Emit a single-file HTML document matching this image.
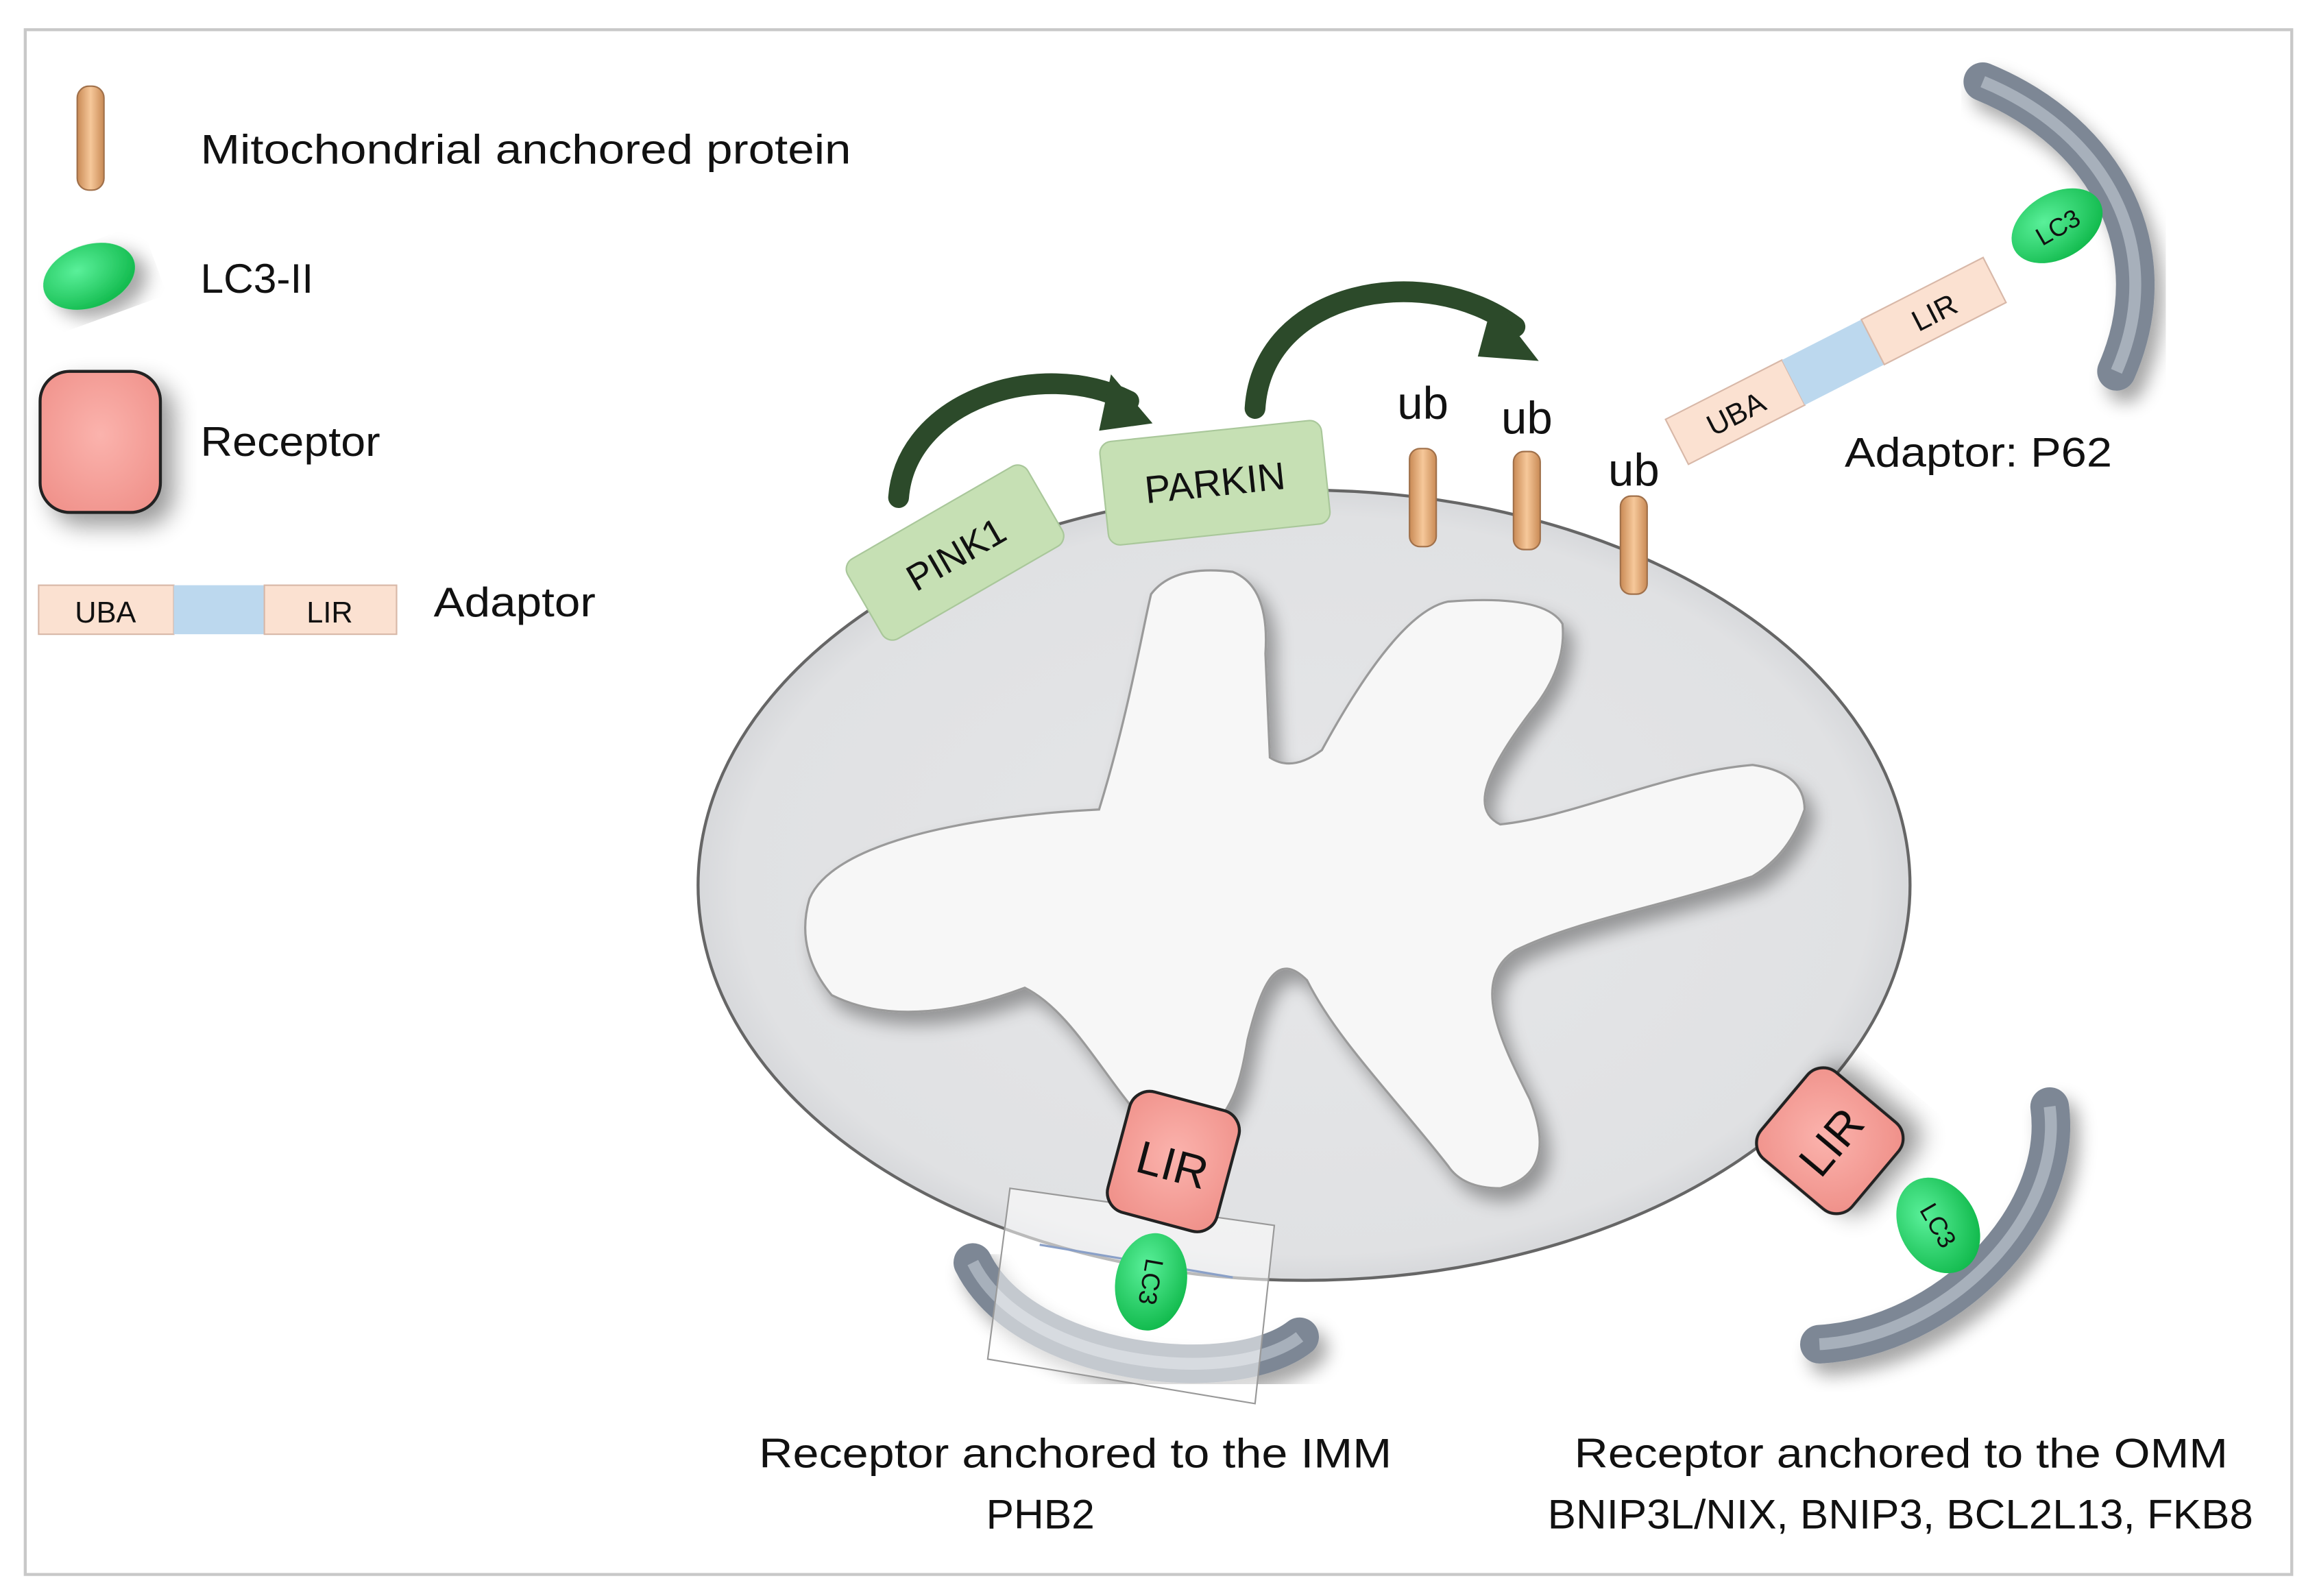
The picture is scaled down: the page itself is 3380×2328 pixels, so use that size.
<!DOCTYPE html>
<html><head><meta charset="utf-8"><style>
html,body{margin:0;padding:0;background:#fff;}
svg{display:block;}
text{font-family:"Liberation Sans",sans-serif;fill:#111;}
</style></head><body>
<svg width="3380" height="2328" viewBox="0 0 1560 1074.5" preserveAspectRatio="none" xmlns="http://www.w3.org/2000/svg">
<defs>
<linearGradient id="cap" x1="0" x2="1" y1="0" y2="0"><stop offset="0" stop-color="#c98a55"/><stop offset="0.5" stop-color="#f6c89a"/><stop offset="1" stop-color="#c98a55"/></linearGradient>
<radialGradient id="lc3" cx="0.4" cy="0.35" r="0.7"><stop offset="0" stop-color="#5af09a"/><stop offset="1" stop-color="#0fb84a"/></radialGradient>
<radialGradient id="rec" cx="0.5" cy="0.45" r="0.7"><stop offset="0" stop-color="#fbb3ad"/><stop offset="1" stop-color="#ef8f88"/></radialGradient>
<radialGradient id="mito" cx="0.5" cy="0.5" r="0.55"><stop offset="0" stop-color="#e6e7e9"/><stop offset="0.85" stop-color="#e0e1e3"/><stop offset="1" stop-color="#c9cbcf"/></radialGradient>
<filter id="sh" x="-20%" y="-20%" width="140%" height="140%"><feGaussianBlur in="SourceAlpha" stdDeviation="6"/><feOffset dx="6" dy="8"/><feComponentTransfer><feFuncA type="linear" slope="0.35"/></feComponentTransfer><feMerge><feMergeNode/><feMergeNode in="SourceGraphic"/></feMerge></filter>
<filter id="sh2" x="-30%" y="-30%" width="160%" height="160%"><feGaussianBlur in="SourceAlpha" stdDeviation="8"/><feOffset dx="8" dy="8"/><feComponentTransfer><feFuncA type="linear" slope="0.4"/></feComponentTransfer><feMerge><feMergeNode/><feMergeNode in="SourceGraphic"/></feMerge></filter>
</defs>
<rect x="17" y="20" width="1526" height="1040" fill="#fff" stroke="#c8c8c8" stroke-width="2"/>

<!-- legend -->
<rect x="52" y="58" width="18" height="70" rx="8" fill="url(#cap)" stroke="#a0704a" stroke-width="1"/>
<text x="135" y="110" font-size="28" textLength="438" lengthAdjust="spacingAndGlyphs">Mitochondrial anchored protein</text>
<ellipse cx="60" cy="186" rx="32" ry="21" fill="url(#lc3)" transform="rotate(-20 60 186)" filter="url(#sh)"/>
<text x="135" y="197" font-size="28" textLength="76" lengthAdjust="spacingAndGlyphs">LC3-II</text>
<rect x="27" y="250" width="81" height="95" rx="20" fill="url(#rec)" stroke="#222" stroke-width="2" filter="url(#sh2)"/>
<text x="135" y="307" font-size="28" textLength="121" lengthAdjust="spacingAndGlyphs">Receptor</text>
<rect x="26" y="394" width="91" height="33" fill="#fbe1d1" stroke="#d8b8a8"/>
<rect x="117" y="394" width="61" height="33" fill="#bcd8ee"/>
<rect x="178" y="394" width="89" height="33" fill="#fbe1d1" stroke="#d8b8a8"/>
<text x="71" y="419" font-size="20" text-anchor="middle">UBA</text>
<text x="222" y="419" font-size="20" text-anchor="middle">LIR</text>
<text x="292" y="415" font-size="28" textLength="109" lengthAdjust="spacingAndGlyphs">Adaptor</text>

<!-- mitochondrion -->
<ellipse cx="878" cy="596" rx="408" ry="266" fill="url(#mito)" stroke="#666" stroke-width="2"/>
<path d="M740,545 C760,480 770,420 775,400 Q790,380 830,385 Q855,395 852,440 L855,510 Q870,520 890,505 C920,450 950,410 975,405 Q1040,400 1052,420 Q1055,450 1030,480 C1000,520 990,545 1010,555 C1060,550 1120,520 1180,515 Q1215,520 1215,545 Q1205,575 1180,590 C1120,610 1060,620 1020,640 C990,660 1010,700 1030,740 Q1050,790 1010,800 Q985,800 975,785 C940,740 900,700 880,660 C860,640 850,660 840,700 C835,730 830,745 815,760 Q790,770 770,755 C740,720 720,680 690,665 C650,680 600,690 560,670 Q535,640 545,605 C560,570 640,550 740,545 Z" fill="#f7f7f7" stroke="#9a9a9a" stroke-width="1.5" filter="url(#sh)"/>

<!-- PINK1 / PARKIN -->
<g transform="rotate(-30 643 372)"><rect x="573" y="341" width="140" height="62" rx="8" fill="#c6e0b4" stroke="#a9c79a"/><text x="643" y="382" font-size="25" text-anchor="middle">PINK1</text></g>
<g transform="rotate(-6 818 325)"><rect x="743" y="290" width="150" height="70" rx="8" fill="#c6e0b4" stroke="#a9c79a"/><text x="818" y="334" font-size="26" text-anchor="middle">PARKIN</text></g>

<!-- arrows -->
<path d="M605,335 C610,270 700,240 760,270" fill="none" stroke="#2c4a2a" stroke-width="14" stroke-linecap="round"/>
<polygon points="748,252 776,285 740,290" fill="#2c4a2a"/>
<path d="M845,275 C850,195 960,175 1020,220" fill="none" stroke="#2c4a2a" stroke-width="14" stroke-linecap="round"/>
<polygon points="1005,203 1036,243 995,240" fill="#2c4a2a"/>

<!-- ub -->
<text x="958" y="282" font-size="31" text-anchor="middle">ub</text>
<text x="1028" y="292" font-size="31" text-anchor="middle">ub</text>
<text x="1100" y="327" font-size="31" text-anchor="middle">ub</text>
<rect x="949" y="302" width="18" height="66" rx="7" fill="url(#cap)" stroke="#a0704a"/>
<rect x="1019" y="304" width="18" height="66" rx="7" fill="url(#cap)" stroke="#a0704a"/>
<rect x="1091" y="334" width="18" height="66" rx="7" fill="url(#cap)" stroke="#a0704a"/>

<!-- P62 adaptor -->
<g transform="translate(1236,243) rotate(-27)">
<rect x="-120" y="-17" width="88" height="34" fill="#fbe1d1" stroke="#d8b8a8"/>
<rect x="-32" y="-17" width="60" height="34" fill="#bcd8ee"/>
<rect x="28" y="-17" width="92" height="34" fill="#fbe1d1" stroke="#d8b8a8"/>
<text x="-76" y="8" font-size="20" text-anchor="middle">UBA</text>
<text x="74" y="8" font-size="20" text-anchor="middle">LIR</text>
</g>
<path d="M1335,55 C1420,90 1460,170 1425,250" fill="none" stroke="#7d8795" stroke-width="26" stroke-linecap="round" filter="url(#sh)"/>
<path d="M1335,55 C1420,90 1460,170 1425,250" fill="none" stroke="#a7b0bb" stroke-width="8"/>
<ellipse cx="1385" cy="152" rx="33" ry="22" fill="url(#lc3)" transform="rotate(-30 1385 152)"/>
<text x="1385" y="159" font-size="17" text-anchor="middle" transform="rotate(-30 1385 152)">LC3</text>
<text x="1242" y="314" font-size="28" textLength="180" lengthAdjust="spacingAndGlyphs">Adaptor: P62</text>

<!-- IMM receptor -->
<path d="M655,850 C690,920 830,935 875,900" fill="none" stroke="#7d8795" stroke-width="26" stroke-linecap="round" filter="url(#sh)"/>
<path d="M655,850 C690,920 830,935 875,900" fill="none" stroke="#a7b0bb" stroke-width="8"/>
<polygon points="680,800 858,825 845,945 665,915" fill="#fff" fill-opacity="0.55" stroke="#999" stroke-width="1"/>
<line x1="700" y1="838" x2="830" y2="860" stroke="#8aa0c8" stroke-width="1.5"/>
<g transform="rotate(15 790 782)"><rect x="752" y="740" width="76" height="84" rx="14" fill="url(#rec)" stroke="#222" stroke-width="2"/><text x="790" y="795" font-size="31" text-anchor="middle">LIR</text></g>
<ellipse cx="775" cy="863" rx="24" ry="33" fill="url(#lc3)" transform="rotate(10 775 863)"/>
<text x="775" y="869" font-size="17" text-anchor="middle" transform="rotate(100 775 863)">LC3</text>

<!-- OMM receptor -->
<path d="M1380,745 C1390,820 1310,900 1225,905" fill="none" stroke="#7d8795" stroke-width="26" stroke-linecap="round" filter="url(#sh)"/>
<path d="M1380,745 C1390,820 1310,900 1225,905" fill="none" stroke="#a7b0bb" stroke-width="8"/>
<g transform="rotate(-50 1232 768)" filter="url(#sh2)"><rect x="1194" y="728" width="76" height="80" rx="14" fill="url(#rec)" stroke="#222" stroke-width="2"/><text x="1232" y="780" font-size="31" text-anchor="middle">LIR</text></g>
<ellipse cx="1305" cy="825" rx="26" ry="34" fill="url(#lc3)" transform="rotate(-30 1305 825)"/>
<text x="1305" y="831" font-size="17" text-anchor="middle" transform="rotate(60 1305 825)">LC3</text>

<!-- captions -->
<text x="511" y="988" font-size="28" textLength="426" lengthAdjust="spacingAndGlyphs">Receptor anchored to the IMM</text>
<text x="664" y="1029" font-size="28" textLength="73" lengthAdjust="spacingAndGlyphs">PHB2</text>
<text x="1060" y="988" font-size="28" textLength="440" lengthAdjust="spacingAndGlyphs">Receptor anchored to the OMM</text>
<text x="1042" y="1029" font-size="28" textLength="475" lengthAdjust="spacingAndGlyphs">BNIP3L/NIX, BNIP3, BCL2L13, FKB8</text>
</svg>
</body></html>
